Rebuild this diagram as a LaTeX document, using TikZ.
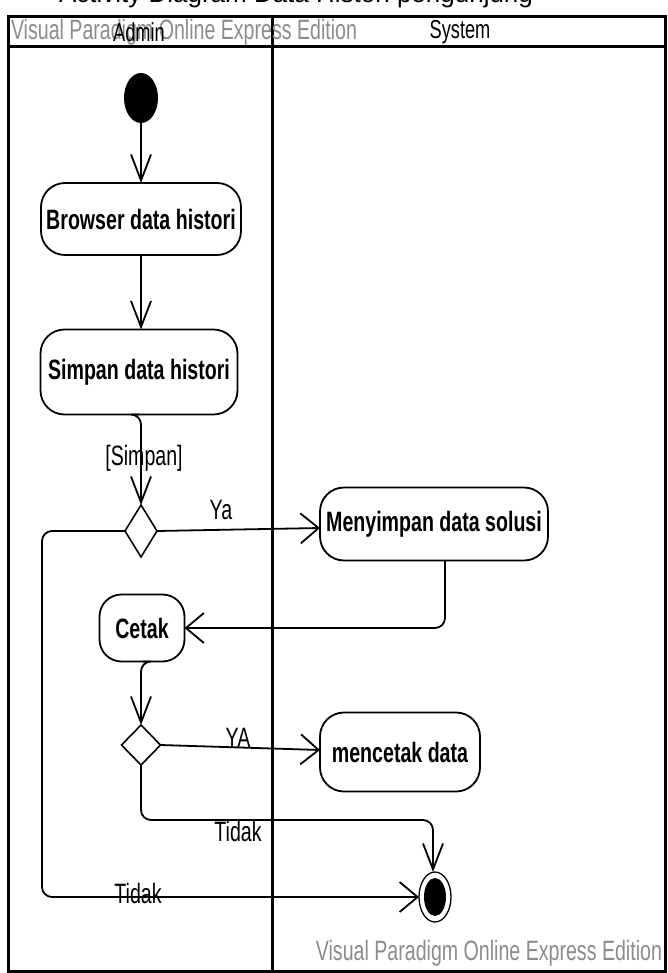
\documentclass[tikz,border=0pt]{standalone}
\usepackage{fontspec}
\setmainfont{Liberation Sans}
\newfontfamily\capfont{Liberation Sans}
\newfontfamily\vpfont[FakeStretch=0.7]{Liberation Sans}
\usetikzlibrary{shapes.geometric,arrows.meta}

\definecolor{wmgray}{RGB}{140,140,140}

\begin{document}
\begin{tikzpicture}[x=1pt,y=-1pt,
  every node/.style={inner sep=0pt, outer sep=0pt},
  lbl/.style={font=\vpfont\fontsize{28}{30}\selectfont},
  hdr/.style={font=\vpfont\fontsize{26}{28}\selectfont},
  wmark/.style={font=\vpfont\fontsize{28}{30}\selectfont, text=wmgray},
  act/.style={draw, line width=1.8pt, rounded corners=24pt,
    font=\vpfont\bfseries\fontsize{28}{30}\selectfont, align=center},
  initial/.style={ellipse, fill=black, minimum width=34pt, minimum height=50pt},
  final/.style={ellipse, draw, line width=1.3pt, minimum width=32pt, minimum height=50pt,
    path picture={\fill[black] (path picture bounding box.center) ellipse (11pt and 19pt);}},
  decision/.style={diamond, draw, line width=1.6pt},
  lane/.style={line width=3pt},
  flow/.style={line width=1.8pt, rounded corners=10pt},
  vtip/.style={-{Straight Barb[length=26pt,width=20pt,line width=1.8pt]}},
  htip/.style={-{Straight Barb[length=18pt,width=30pt,line width=1.8pt]}}
]
\useasboundingbox (0,0) rectangle (668,973);

% caption line above the diagram, cut off by the page edge
\begin{scope}
  \clip (0,0) rectangle (668,973);
  \node[anchor=base west, font=\capfont\fontsize{26}{28}\selectfont] (caption) at (59,3)
    {Activity Diagram Data Histori pengunjung};
\end{scope}

% swimlane frame
\draw[lane] (8,17) rectangle (665,971);
\draw[lane] (8,47) -- (665,47);
\draw[lane] (272,17) -- (272,971);

% watermarks and lane headers
\node[wmark, anchor=west] (wmtop) at (11,32) {Visual Paradigm Online Express Edition};
\node[wmark, anchor=east] (wmbot) at (662,953) {Visual Paradigm Online Express Edition};
\node[hdr] (admin) at (139,32) {Admin};
\node[hdr] (system) at (460,32) {System};

% activity nodes
\node[initial] (start) at (141,98) {};
\node[act, minimum width=200pt, minimum height=72pt] (browser) at (141,219) {Browser data histori};
\node[act, minimum width=197pt, minimum height=85pt] (simpan) at (139,372) {Simpan data histori};
\node[decision, minimum width=32pt, minimum height=52pt] (d1) at (141,531) {};
\node[act, minimum width=228pt, minimum height=73pt] (menyimpan) at (434,524) {Menyimpan data solusi};
\node[act, minimum width=85pt, minimum height=67pt, rounded corners=22pt] (cetak) at (142,628) {Cetak};
\node[decision, minimum width=39pt, minimum height=40pt] (d2) at (141,745) {};
\node[act, minimum width=160pt, minimum height=79pt] (mencetak) at (400,752) {mencetak data};
\node[final] (endn) at (435,897) {};

% routing helpers
\coordinate (leftrail) at (42,0);
\coordinate (tidakrow) at (0,820);

% control flows
\draw[flow, vtip] (start) -- (browser);
\draw[flow, vtip] (browser.south) -- (browser.south |- simpan.north);
\draw[flow, vtip] (simpan.south) -- (simpan.south -| d1.north) -- (d1.north);
\draw[flow, htip] (d1.east) -- ([yshift=-4pt]menyimpan.west);
\draw[flow, htip] (d1.west) -- (d1.west -| leftrail) |- (endn.west);
\draw[flow, htip] ([xshift=11pt]menyimpan.south) |- (cetak.east);
\draw[flow, vtip] (cetak.south) -- (cetak.south -| d2.north) -- (d2.north);
\draw[flow, htip] (d2.east) -- ([yshift=2pt]mencetak.west);
\draw[flow, vtip] (d2.south) -- (d2.south |- tidakrow) -| ([xshift=-2pt]endn.north);

% guard labels
\node[lbl] (lsimpan) at (144,458) {[Simpan]};
\node[lbl] (lya) at (221,510) {Ya};
\node[lbl] (lYA) at (238,738) {YA};
\node[lbl] (ltidak1) at (238,831) {Tidak};
\node[lbl] (ltidak2) at (138,893) {Tidak};
\end{tikzpicture}
\end{document}
